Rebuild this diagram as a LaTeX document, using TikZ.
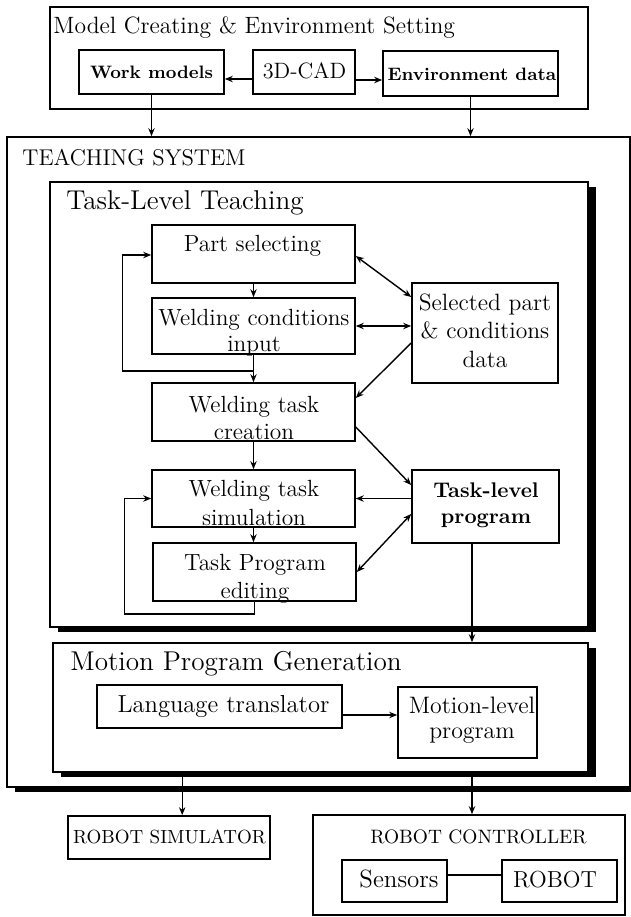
\documentclass[tikz,border=0pt]{standalone}
\usetikzlibrary{arrows.meta,calc,shadows}
\newcommand{\myfs}[1]{\fontsize{#1}{#1}\selectfont}
\tikzset{
 box/.style={draw, line width=0.8pt, fill=white, inner sep=0pt, rectangle},
 shbox/.style={box, general shadow={fill=black, shadow xshift=4pt, shadow yshift=-2.5pt}},
 tx/.style={inner sep=0pt, anchor=base},
 ttl/.style={inner sep=0pt, anchor=base west},
 ln/.style={line width=0.7pt},
 arr/.style={line width=0.7pt, -{Stealth[length=4pt,width=3.2pt]}},
 darr/.style={line width=0.7pt, {Stealth[length=4pt,width=3.2pt]}-{Stealth[length=4pt,width=3.2pt]}},
}
\begin{document}
\begin{tikzpicture}[x=0.5pt,y=-0.5pt]
\useasboundingbox (0,0) rectangle (631,917);
% Model creating
\node[box, minimum width=269pt, minimum height=51pt] (mc) at (319,58) {};
\node[ttl, font=\myfs{11.8}] (mct) at (53,33) {Model Creating \& Environment Setting};
\node[box, minimum width=72.5pt, minimum height=22pt] (wm) at (151.5,72) {};
\node[tx, font=\bfseries\myfs{9}] (wmt) at (151.5,78) {Work models};
\node[box, minimum width=51pt, minimum height=22pt] (cad) at (304,72) {};
\node[tx, font=\myfs{11.1}] (cadt) at (304.5,78) {3D-CAD};
\node[box, minimum width=87.5pt, minimum height=22.5pt] (env) at (470.5,73.5) {};
\node[tx, font=\bfseries\myfs{9}] (envt) at (472,80) {Environment data};
% Teaching system
\node[shbox, minimum width=311.5pt, minimum height=325pt] (ts) at (318.5,462) {};
\node[ttl, font=\myfs{11.4}] (tst) at (22,165) {TEACHING SYSTEM};
% Task-level teaching
\node[shbox, minimum width=269pt, minimum height=222.5pt] (tlt) at (319,404.5) {};
\node[ttl, font=\myfs{13.6}] (tltt) at (66,209) {Task-Level Teaching};
\node[box, minimum width=101.5pt, minimum height=29pt] (ps) at (253.5,254) {};
\node[tx, font=\myfs{11.7}] (pst) at (252.5,251) {Part selecting};
\node[box, minimum width=101.5pt, minimum height=28pt] (wc) at (253.5,326) {};
\node[tx, font=\myfs{11.7}] (wct1) at (254,325) {Welding conditions};
\node[tx, font=\myfs{11.7}] (wct2) at (254,351) {input};
\node[box, minimum width=101.5pt, minimum height=29pt] (wtc) at (253.5,412) {};
\node[tx, font=\myfs{11.7}] (wtct1) at (254,412) {Welding task};
\node[tx, font=\myfs{11.7}] (wtct2) at (254,439) {creation};
\node[box, minimum width=101.5pt, minimum height=28.5pt] (wts) at (253.5,498.5) {};
\node[tx, font=\myfs{11.7}] (wtst1) at (254,496) {Welding task};
\node[tx, font=\myfs{11.7}] (wtst2) at (254,525) {simulation};
\node[box, minimum width=101.5pt, minimum height=29pt] (tpe) at (254.5,572) {};
\node[tx, font=\myfs{11.7}] (tpet1) at (255,570) {Task Program};
\node[tx, font=\myfs{11.7}] (tpet2) at (255,598) {editing};
\node[box, minimum width=73pt, minimum height=50pt] (sel) at (485,333) {};
\node[tx, font=\myfs{11.8}] (selt1) at (485,310) {Selected part};
\node[tx, font=\myfs{11.8}] (selt2) at (485,338) {\& conditions};
\node[tx, font=\myfs{11.8}] (selt3) at (485,367) {data};
\node[box, minimum width=73.5pt, minimum height=36.5pt] (tlp) at (485.5,506.5) {};
\node[tx, font=\bfseries\myfs{10.6}] (tlpt1) at (486,497) {Task-level};
\node[tx, font=\bfseries\myfs{10.6}] (tlpt2) at (486,523) {program};
% Motion program generation
\node[shbox, minimum width=267.5pt, minimum height=64.5pt] (mpg) at (320.5,707.5) {};
\node[ttl, font=\myfs{13.6}] (mpgt) at (70,670) {Motion Program Generation};
\node[box, minimum width=122.5pt, minimum height=21.5pt] (lt) at (219.5,706.5) {};
\node[tx, font=\myfs{12.3}] (ltt) at (223.5,712) {Language translator};
\node[box, minimum width=69.5pt, minimum height=35.5pt] (mlp) at (467.5,722.5) {};
\node[tx, font=\myfs{11.9}] (mlpt1) at (472,713) {Motion-level};
\node[tx, font=\myfs{11.9}] (mlpt2) at (472,738) {program};
% Robot side
\node[box, minimum width=101pt, minimum height=21.5pt] (rs) at (169,837.5) {};
\node[tx, font=\myfs{9.5}] (rst) at (169.5,843) {ROBOT SIMULATOR};
\node[box, minimum width=156pt, minimum height=50pt] (rc) at (469,865) {};
\node[tx, font=\myfs{9.7}] (rct) at (478.5,843) {ROBOT CONTROLLER};
\node[box, minimum width=52.5pt, minimum height=21pt] (sen) at (394.5,881) {};
\node[tx, font=\myfs{12.5}] (sent) at (399,887) {Sensors};
\node[box, minimum width=57.5pt, minimum height=21pt] (rob) at (559.5,881) {};
\node[tx, font=\myfs{11.6}] (robt) at (555,887) {ROBOT};
% connectors top
\draw[arr] ($(cad.west)+(0,7)$) -- ($(wm.east)+(0,7)$);
\draw[arr] ($(cad.east)+(0,8)$) -- ($(env.west)+(0,6.5)$);
\draw[arr] (wm.south) -- (wm.south |- ts.north);
\draw[arr] (env.south) -- (env.south |- ts.north);
% task-level
\draw[arr] (ps.south) -- (wc.north);
\draw[arr] (wc.south) -- (wtc.north);
\coordinate (l1) at ($(wc.south)+(0.5,16)$);
\draw[arr] (l1) -| ($(ps.west)+(-29,1)$) -- ($(ps.west)+(0,1)$);
\draw[arr] (wtc.south) -- (wts.north);
\draw[arr] (wts.south) -- (wts.south |- tpe.north);
\draw[arr] (tpe.south) -- ++(0,12) -| ($(wts.west)+(-27,0)$) -- (wts.west);
\draw[darr] ($(ps.east)+(0,2)$) -- ($(sel.west)+(0,-36)$);
\draw[darr] (wc.east) -- (wc.east -| sel.west);
\draw[arr] ($(sel.west)+(0,10)$) -- ($(wtc.east)+(0,-14)$);
\draw[arr] ($(wtc.east)+(0,15)$) -- ($(tlp.west)+(0,-21.5)$);
\draw[arr] (wts.east -| tlp.west) -- (wts.east);
\draw[darr] ($(tlp.west)+(0,7.5)$) -- (tpe.east);
\coordinate (c1) at ($(tlp.south)+(-13.5,0)$);
\draw[arr] (c1) -- (c1 |- mpg.north);
% motion
\draw[arr] ($(lt.east)+(0,8.5)$) -- ($(mlp.west)+(0,-7.5)$);
\coordinate (c2) at ($(mpg.south west)+(130,0)$);
\draw[arr] (c2) -- (c2 |- rs.north);
\coordinate (c3) at (c1 |- mpg.south);
\draw[arr] (c3) -- (c3 |- rc.north);
\draw[ln] ($(sen.east)+(0,-6)$) -- ($(rob.west)+(0,-6)$);
\end{tikzpicture}
\end{document}
